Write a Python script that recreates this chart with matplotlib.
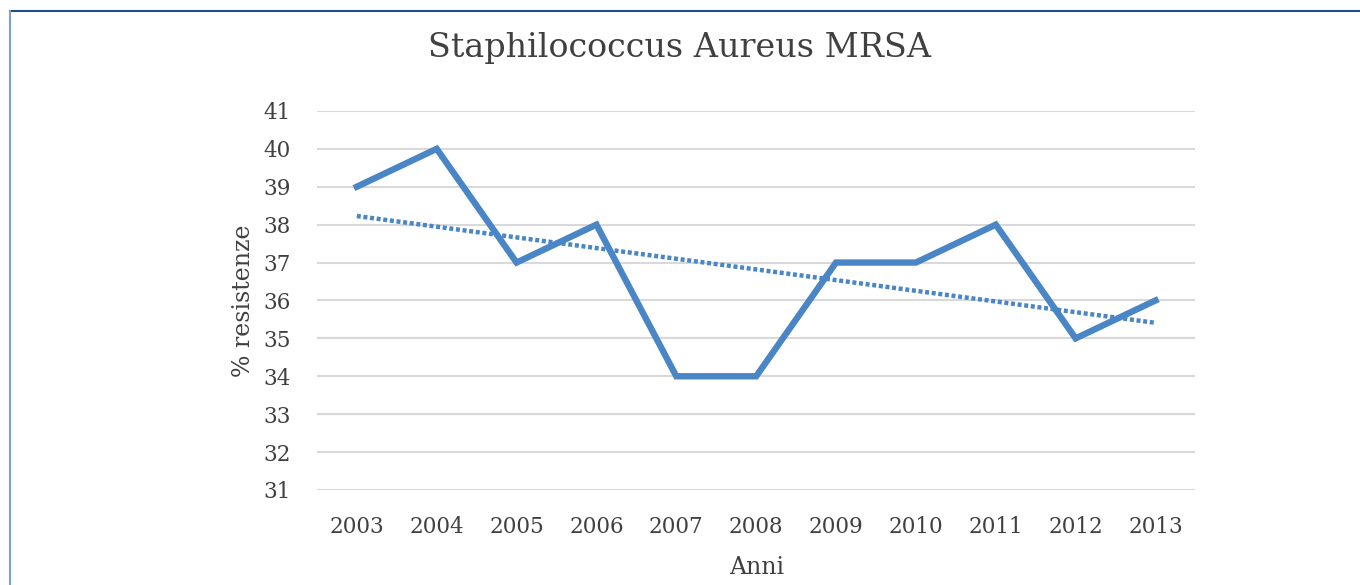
import matplotlib
matplotlib.use('agg')
import matplotlib.pyplot as plt
from matplotlib.lines import Line2D
import numpy as np

years = ['2003', '2004', '2005', '2006', '2007', '2008', '2009', '2010', '2011', '2012', '2013']
resistenze = [39, 40, 37, 38, 34, 34, 37, 37, 38, 35, 36]
yticks = list(range(31, 42))

blue = '#4a86c5'
txt = '#404040'
plt.rcParams['font.family'] = ['DejaVu Serif']

fig = plt.figure(figsize=(13.6, 5.85), dpi=100)
ax = fig.add_axes([0.233, 0.1624, 0.646, 0.648])

x = np.arange(len(years))
ax.plot(x, resistenze, color=blue, lw=4.6, solid_joinstyle='miter', zorder=3)

# trend lineare (come in Excel)
k, q = np.polyfit(x, resistenze, 1)
ax.plot(x, k * x + q, color=blue, lw=3.2, linestyle=(0, (0.9, 0.6)),
        dash_capstyle='butt', zorder=2)

ax.set_xlim(-0.5, len(years) - 0.5)
ax.set_ylim(31, 41)
ax.set_yticks(yticks)
ax.set_xticks(x)
ax.set_xticklabels(years)
ax.grid(axis='y', color='#d9d9d9', lw=1.5)
ax.set_axisbelow(True)
for s in ax.spines.values():
    s.set_visible(False)
ax.tick_params(length=0, labelsize=15.5, colors=txt)
ax.tick_params(axis='x', pad=19)
ax.tick_params(axis='y', pad=19)

ax.set_xlabel('Anni', fontsize=17, color=txt, labelpad=13)
ax.set_ylabel('% resistenze', fontsize=17, color=txt, labelpad=6)
fig.suptitle('Staphilococcus Aureus MRSA', fontsize=24, color=txt, y=0.945)

# cornice
fig.add_artist(Line2D([0.007, 1], [0.981, 0.981], color='#1f4e8c', lw=1.5))
fig.add_artist(Line2D([0.007, 0.007], [0, 0.981], color='#7a9fd0', lw=1.5))

fig.savefig('out.png', dpi=100)
